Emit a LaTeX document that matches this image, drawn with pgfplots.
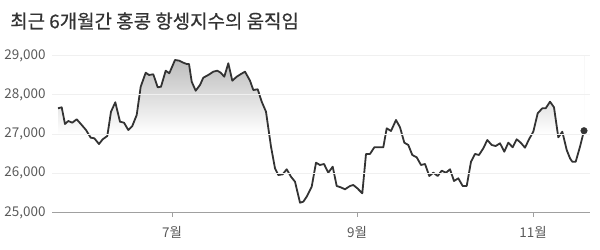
\documentclass[border=0pt]{standalone}
\usepackage{fontspec}
\setmainfont{Noto Sans CJK KR}
\newfontfamily\titlefont[FakeBold=0.6]{Noto Sans CJK KR}
\usepackage{pgfplots}
\usepackage{pgfplotstable}
\pgfplotsset{compat=1.18}
\definecolor{linec}{HTML}{333333}
\definecolor{tickc}{HTML}{5A5A5A}
\definecolor{axisc}{HTML}{A0A0A0}
\pgfplotstableread{
x y
58 27655
61.7 27680
65 27255
68.3 27331
72.3 27288
76.7 27375
81.7 27230
86 27102
90.7 26906
94.3 26891
99 26745
102.7 26865
107.3 26949
111 27568
115.3 27808
120 27314
124 27288
128.3 27102
132.3 27204
136.7 27484
140.7 28205
145.7 28562
149 28504
153.3 28521
157.7 28190
161 28205
165.7 28613
169.3 28547
175 28886
179.3 28868
183.3 28817
186.7 28784
189 28784
191.7 28333
195.7 28103
200 28249
203.3 28435
208.3 28504
213.3 28588
217.3 28613
220.7 28562
224.3 28460
228.3 28802
232.3 28358
236.7 28460
241 28529
245 28588
250 28358
253.3 28121
257.7 28139
261.7 27823
266 27568
271 26677
275 26126
278.3 25955
282.7 25973
286.7 26101
291 25912
295 25785
300 25250
303.3 25275
306.7 25403
311.7 25657
316 26269
320 26210
324 26236
328.3 26014
332.7 26167
336.7 25675
340.7 25642
345 25591
350 25675
353.3 25701
357.3 25617
362.3 25489
366 26491
370 26491
374.3 26661
379.3 26661
383.3 26661
386.7 27145
391 27077
396 27357
400 27171
404.3 26779
408.3 26720
412.3 26465
416.7 26406
421 26210
425 26236
429.3 25930
433.3 26014
437.7 25930
441.7 26065
446 26014
450 26101
454 25803
458.3 25871
462.7 25675
466.7 25675
471 26294
475 26491
479 26465
483.3 26636
487.3 26847
491.7 26720
495.7 26694
500 26763
504.3 26549
508.3 26779
512.7 26661
516.7 26865
520.7 26779
525 26651
529 26865
533.3 27059
537.7 27528
542.3 27655
545.7 27655
550 27823
554 27680
558.3 26916
562.3 27059
566.7 26593
570 26381
572.3 26294
575.7 26294
580 26677
584 27084
}\hsidata
\begin{document}
\begin{tikzpicture}
\useasboundingbox (0,0) rectangle (600bp,250bp);
\node[anchor=west, text=linec, inner sep=0pt] at (10bp,229bp) {\titlefont\fontsize{19}{22}\selectfont 최근 6개월간 홍콩 항셍지수의 움직임};
\begin{axis}[
  at={(52bp,37.5bp)}, anchor=south west,
  scale only axis, width=538bp, height=157bp,
  xmin=52, xmax=590, ymin=25000, ymax=29000,
  axis x line*=bottom, axis y line*=left,
  x axis line style={draw=axisc, line width=1.3pt},
  y axis line style={draw=none},
  xtick={172,357,533}, xticklabels={7월,9월,11월},
  x tick style={draw=axisc, line width=0.8pt},
  tick align=outside, xtick pos=bottom,
  major tick length=4bp,
  ytick={25000,26000,27000,28000,29000},
  scaled y ticks=false,
  y tick style={draw=none},
  ymajorgrids, grid style={draw=gray!12, line width=0.8pt},
  yticklabel style={/pgf/number format/1000 sep={,}, xshift=1bp},
  /pgf/number format/assume math mode=true,
  ticklabel style={text=tickc, font=\fontsize{13.5}{15}\selectfont},
  xticklabel style={yshift=-6bp},
  axis on top,
]
\addplot[draw=none, top color=gray!55, bottom color=white] coordinates {(58,27000) (584,27000) (584,29000) (58,29000)} -- cycle;
\addplot[draw=none, fill=white] table[x=x,y=y] {\hsidata} |- (axis cs:58,29200) -- cycle;
\addplot[color=linec, line width=1.8pt, line join=round] table[x=x,y=y] {\hsidata};
\addplot[only marks, mark=*, mark size=3.3pt, mark options={fill=linec, draw=linec}] coordinates {(584,27084)};
\end{axis}
\end{tikzpicture}
\end{document}
